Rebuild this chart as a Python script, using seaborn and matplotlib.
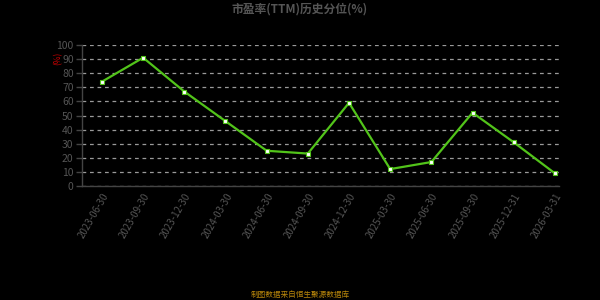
import matplotlib
matplotlib.use("Agg")
import matplotlib.pyplot as plt
import seaborn as sns
import pandas as pd
import numpy as np

dates = ["2023-06-30", "2023-09-30", "2023-12-30", "2024-03-30", "2024-06-30",
         "2024-09-30", "2024-12-30", "2025-03-30", "2025-06-30", "2025-09-30",
         "2025-12-31", "2026-03-31"]
values = [74, 91, 67, 46, 25, 23, 59, 12, 17, 52, 31, 9]
title = "市盈率(TTM)历史分位(%)"
source = "制图数据来自恒生聚源数据库"

sns.set_theme(style="dark")
plt.rcParams['font.family'] = ['Noto Sans CJK SC', 'DejaVu Sans']

df = pd.DataFrame({"idx": np.arange(len(dates)), "date": dates, "value": values})

fig = plt.figure(figsize=(6, 3), dpi=100, facecolor="black")
ax = fig.add_axes([82/600, 1 - 186/300, (559-82)/600, (186-45)/300])
ax.set_facecolor("black")

sns.lineplot(data=df, x="idx", y="value", ax=ax, color="#52c41a", linewidth=1.6,
             marker="s", markersize=3.5, markerfacecolor="white",
             markeredgecolor="#52c41a", markeredgewidth=0.8)

ax.set_xlim(-0.485, 11.1)
ax.set_ylim(0, 100)
ax.set_yticks(range(0, 101, 10))
ax.set_xticks(df["idx"])
ax.set_xticklabels(dates, rotation=60, ha="right", rotation_mode="anchor",
                   color="#555555", fontsize=7)
ax.tick_params(axis="x", length=0, pad=4)
ax.set_xticks(np.linspace(-0.485, 11.1, 13), minor=True)
ax.tick_params(axis="x", which="minor", length=4, color="#444444", width=1, direction="out")
ax.tick_params(axis="y", colors="#555555", labelsize=7.5, length=4, width=1, pad=2,
               left=True)
ax.tick_params(axis="y", color="#444444")
for lbl in ax.get_yticklabels():
    lbl.set_color("#555555")

ax.yaxis.grid(True, linestyle=(0, (3, 3)), color="#9a9a9a", linewidth=0.9)
ax.xaxis.grid(False)
for s in ["top", "right"]:
    ax.spines[s].set_visible(False)
ax.spines["left"].set_color("#444444")
ax.spines["bottom"].set_color("#444444")
ax.spines["left"].set_linewidth(1)
ax.spines["bottom"].set_linewidth(1)
ax.set_xlabel("")
ax.set_ylabel("")

fig.text(58/600, 1 - 58/300, "(%)", color="#cc0000", fontsize=6, rotation=90,
         ha="center", va="center")
fig.text(0.5, 1 - 9/300, title, color="#555555", fontsize=8.5, fontweight="bold",
         ha="center", va="center")
fig.text(0.5, 1 - 295/300, source, color="#b8860b", fontsize=5.5,
         ha="center", va="center")

fig.savefig("out.png", dpi=100, facecolor="black")
